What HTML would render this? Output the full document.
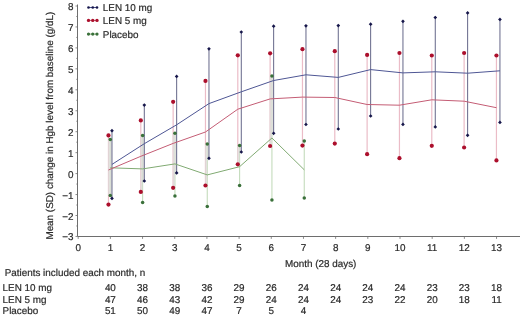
<!DOCTYPE html>
<html><head><meta charset="utf-8"><style>
html,body{margin:0;padding:0;background:#fff;}
body{width:520px;height:317px;overflow:hidden;}
svg{display:block;filter:blur(0.35px);}
text{font-family:"Liberation Sans",sans-serif;font-size:9.9px;fill:#2a2a2a;stroke:#2a2a2a;stroke-width:0.2px;text-rendering:geometricPrecision;}
</style></head><body>
<svg width="520" height="317" viewBox="0 0 520 317">
<line x1="108.48" y1="135.4" x2="108.48" y2="204.6" stroke="#ebbcc7" stroke-width="1.2"/>
<line x1="140.81" y1="120.4" x2="140.81" y2="191.9" stroke="#ebbcc7" stroke-width="1.2"/>
<line x1="173.14" y1="101.8" x2="173.14" y2="187.8" stroke="#ebbcc7" stroke-width="1.2"/>
<line x1="205.47" y1="80.9" x2="205.47" y2="185.5" stroke="#ebbcc7" stroke-width="1.2"/>
<line x1="237.80" y1="55.3" x2="237.80" y2="164.3" stroke="#ebbcc7" stroke-width="1.2"/>
<line x1="270.13" y1="53.3" x2="270.13" y2="146" stroke="#ebbcc7" stroke-width="1.2"/>
<line x1="302.46" y1="49.2" x2="302.46" y2="145.6" stroke="#ebbcc7" stroke-width="1.2"/>
<line x1="334.79" y1="51.2" x2="334.79" y2="143.6" stroke="#ebbcc7" stroke-width="1.2"/>
<line x1="367.12" y1="54.9" x2="367.12" y2="154.2" stroke="#ebbcc7" stroke-width="1.2"/>
<line x1="399.45" y1="53" x2="399.45" y2="158.2" stroke="#ebbcc7" stroke-width="1.2"/>
<line x1="431.78" y1="55.5" x2="431.78" y2="145.8" stroke="#ebbcc7" stroke-width="1.2"/>
<line x1="464.11" y1="53" x2="464.11" y2="147.5" stroke="#ebbcc7" stroke-width="1.2"/>
<line x1="496.44" y1="55.5" x2="496.44" y2="160.4" stroke="#ebbcc7" stroke-width="1.2"/>
<line x1="110.28" y1="139.5" x2="110.28" y2="195.4" stroke="#c4dcbc" stroke-width="1.1"/>
<line x1="142.61" y1="135.4" x2="142.61" y2="202.5" stroke="#c4dcbc" stroke-width="1.1"/>
<line x1="174.94" y1="133.3" x2="174.94" y2="196" stroke="#c4dcbc" stroke-width="1.1"/>
<line x1="207.27" y1="144" x2="207.27" y2="206.6" stroke="#c4dcbc" stroke-width="1.1"/>
<line x1="239.60" y1="145.6" x2="239.60" y2="185.5" stroke="#c4dcbc" stroke-width="1.1"/>
<line x1="271.93" y1="76" x2="271.93" y2="199.9" stroke="#c4dcbc" stroke-width="1.1"/>
<line x1="304.26" y1="141.1" x2="304.26" y2="198" stroke="#c4dcbc" stroke-width="1.1"/>
<rect x="107.98" y="139.5" width="4.00" height="55.90" fill="#dedcda" fill-opacity="0.75"/>
<rect x="140.31" y="135.4" width="4.00" height="45.60" fill="#dedcda" fill-opacity="0.75"/>
<rect x="140.31" y="181" width="2.30" height="10.90" fill="#dedcda" fill-opacity="0.75"/>
<rect x="172.64" y="133.3" width="4.00" height="39.60" fill="#dedcda" fill-opacity="0.75"/>
<rect x="172.64" y="172.9" width="2.30" height="14.90" fill="#dedcda" fill-opacity="0.75"/>
<rect x="204.97" y="144" width="4.00" height="14.30" fill="#dedcda" fill-opacity="0.75"/>
<rect x="204.97" y="158.3" width="2.30" height="27.20" fill="#dedcda" fill-opacity="0.75"/>
<rect x="237.30" y="145.6" width="4.00" height="6.40" fill="#dedcda" fill-opacity="0.75"/>
<rect x="237.30" y="152" width="2.30" height="12.30" fill="#dedcda" fill-opacity="0.75"/>
<rect x="269.63" y="76" width="4.00" height="57.30" fill="#dedcda" fill-opacity="0.75"/>
<rect x="269.63" y="133.3" width="2.30" height="12.70" fill="#dedcda" fill-opacity="0.75"/>
<rect x="301.96" y="141.1" width="2.30" height="4.50" fill="#dedcda" fill-opacity="0.75"/>
<line x1="111.98" y1="130.7" x2="111.98" y2="198.4" stroke="#6c6e8e" stroke-width="1.05"/>
<line x1="144.31" y1="105.1" x2="144.31" y2="181" stroke="#6c6e8e" stroke-width="1.05"/>
<line x1="176.64" y1="76.4" x2="176.64" y2="172.9" stroke="#6c6e8e" stroke-width="1.05"/>
<line x1="208.97" y1="48.8" x2="208.97" y2="158.3" stroke="#6c6e8e" stroke-width="1.05"/>
<line x1="241.30" y1="32" x2="241.30" y2="152" stroke="#6c6e8e" stroke-width="1.05"/>
<line x1="273.63" y1="26.2" x2="273.63" y2="133.3" stroke="#6c6e8e" stroke-width="1.05"/>
<line x1="305.96" y1="25.8" x2="305.96" y2="124.5" stroke="#6c6e8e" stroke-width="1.05"/>
<line x1="338.29" y1="25.6" x2="338.29" y2="129" stroke="#6c6e8e" stroke-width="1.05"/>
<line x1="370.62" y1="24.2" x2="370.62" y2="116" stroke="#6c6e8e" stroke-width="1.05"/>
<line x1="402.95" y1="21.3" x2="402.95" y2="124.4" stroke="#6c6e8e" stroke-width="1.05"/>
<line x1="435.28" y1="17.5" x2="435.28" y2="126.9" stroke="#6c6e8e" stroke-width="1.05"/>
<line x1="467.61" y1="12.9" x2="467.61" y2="135.3" stroke="#6c6e8e" stroke-width="1.05"/>
<line x1="499.94" y1="19.4" x2="499.94" y2="122.4" stroke="#6c6e8e" stroke-width="1.05"/>
<polyline points="110.28,167.8 142.61,168.9 174.94,163.9 207.27,174.9 239.60,166.7 271.93,138 304.26,169.8" fill="none" stroke="#80aa72" stroke-width="1"/>
<polyline points="108.48,170 140.81,156.3 173.14,143.4 205.47,132 237.80,109.2 270.13,98.9 302.46,97.1 334.79,97.5 367.12,104.5 399.45,105.2 431.78,99.8 464.11,101.2 496.44,107.7" fill="none" stroke="#c45c74" stroke-width="1"/>
<polyline points="111.98,164.4 144.31,143.7 176.64,124.8 208.97,103.6 241.30,91.8 273.63,80.5 305.96,74.8 338.29,77.4 370.62,69.6 402.95,72.9 435.28,71.8 467.61,73.2 499.94,70.8" fill="none" stroke="#4e5694" stroke-width="1"/>
<circle cx="110.28" cy="139.5" r="1.75" fill="#3a703a"/>
<circle cx="110.28" cy="195.4" r="1.75" fill="#3a703a"/>
<circle cx="142.61" cy="135.4" r="1.75" fill="#3a703a"/>
<circle cx="142.61" cy="202.5" r="1.75" fill="#3a703a"/>
<circle cx="174.94" cy="133.3" r="1.75" fill="#3a703a"/>
<circle cx="174.94" cy="196" r="1.75" fill="#3a703a"/>
<circle cx="207.27" cy="144" r="1.75" fill="#3a703a"/>
<circle cx="207.27" cy="206.6" r="1.75" fill="#3a703a"/>
<circle cx="239.60" cy="145.6" r="1.75" fill="#3a703a"/>
<circle cx="239.60" cy="185.5" r="1.75" fill="#3a703a"/>
<circle cx="271.93" cy="76" r="1.75" fill="#3a703a"/>
<circle cx="271.93" cy="199.9" r="1.75" fill="#3a703a"/>
<circle cx="304.26" cy="141.1" r="1.75" fill="#3a703a"/>
<circle cx="304.26" cy="198" r="1.75" fill="#3a703a"/>
<circle cx="108.48" cy="135.4" r="2.1" fill="#ac0f2c"/>
<circle cx="108.48" cy="204.6" r="2.1" fill="#ac0f2c"/>
<circle cx="140.81" cy="120.4" r="2.1" fill="#ac0f2c"/>
<circle cx="140.81" cy="191.9" r="2.1" fill="#ac0f2c"/>
<circle cx="173.14" cy="101.8" r="2.1" fill="#ac0f2c"/>
<circle cx="173.14" cy="187.8" r="2.1" fill="#ac0f2c"/>
<circle cx="205.47" cy="80.9" r="2.1" fill="#ac0f2c"/>
<circle cx="205.47" cy="185.5" r="2.1" fill="#ac0f2c"/>
<circle cx="237.80" cy="55.3" r="2.1" fill="#ac0f2c"/>
<circle cx="237.80" cy="164.3" r="2.1" fill="#ac0f2c"/>
<circle cx="270.13" cy="53.3" r="2.1" fill="#ac0f2c"/>
<circle cx="270.13" cy="146" r="2.1" fill="#ac0f2c"/>
<circle cx="302.46" cy="49.2" r="2.1" fill="#ac0f2c"/>
<circle cx="302.46" cy="145.6" r="2.1" fill="#ac0f2c"/>
<circle cx="334.79" cy="51.2" r="2.1" fill="#ac0f2c"/>
<circle cx="334.79" cy="143.6" r="2.1" fill="#ac0f2c"/>
<circle cx="367.12" cy="54.9" r="2.1" fill="#ac0f2c"/>
<circle cx="367.12" cy="154.2" r="2.1" fill="#ac0f2c"/>
<circle cx="399.45" cy="53" r="2.1" fill="#ac0f2c"/>
<circle cx="399.45" cy="158.2" r="2.1" fill="#ac0f2c"/>
<circle cx="431.78" cy="55.5" r="2.1" fill="#ac0f2c"/>
<circle cx="431.78" cy="145.8" r="2.1" fill="#ac0f2c"/>
<circle cx="464.11" cy="53" r="2.1" fill="#ac0f2c"/>
<circle cx="464.11" cy="147.5" r="2.1" fill="#ac0f2c"/>
<circle cx="496.44" cy="55.5" r="2.1" fill="#ac0f2c"/>
<circle cx="496.44" cy="160.4" r="2.1" fill="#ac0f2c"/>
<path d="M111.98 128.85L113.83 130.7L111.98 132.55L110.13 130.7Z" fill="#16164a"/>
<path d="M111.98 196.55L113.83 198.4L111.98 200.25L110.13 198.4Z" fill="#16164a"/>
<path d="M144.31 103.25L146.16 105.1L144.31 106.95L142.46 105.1Z" fill="#16164a"/>
<path d="M144.31 179.15L146.16 181L144.31 182.85L142.46 181Z" fill="#16164a"/>
<path d="M176.64 74.55L178.49 76.4L176.64 78.25L174.79 76.4Z" fill="#16164a"/>
<path d="M176.64 171.05L178.49 172.9L176.64 174.75L174.79 172.9Z" fill="#16164a"/>
<path d="M208.97 46.95L210.82 48.8L208.97 50.65L207.12 48.8Z" fill="#16164a"/>
<path d="M208.97 156.45L210.82 158.3L208.97 160.15L207.12 158.3Z" fill="#16164a"/>
<path d="M241.30 30.15L243.15 32L241.30 33.85L239.45 32Z" fill="#16164a"/>
<path d="M241.30 150.15L243.15 152L241.30 153.85L239.45 152Z" fill="#16164a"/>
<path d="M273.63 24.35L275.48 26.2L273.63 28.05L271.78 26.2Z" fill="#16164a"/>
<path d="M273.63 131.45L275.48 133.3L273.63 135.15L271.78 133.3Z" fill="#16164a"/>
<path d="M305.96 23.95L307.81 25.8L305.96 27.65L304.11 25.8Z" fill="#16164a"/>
<path d="M305.96 122.65L307.81 124.5L305.96 126.35L304.11 124.5Z" fill="#16164a"/>
<path d="M338.29 23.75L340.14 25.6L338.29 27.45L336.44 25.6Z" fill="#16164a"/>
<path d="M338.29 127.15L340.14 129L338.29 130.85L336.44 129Z" fill="#16164a"/>
<path d="M370.62 22.35L372.47 24.2L370.62 26.05L368.77 24.2Z" fill="#16164a"/>
<path d="M370.62 114.15L372.47 116L370.62 117.85L368.77 116Z" fill="#16164a"/>
<path d="M402.95 19.45L404.80 21.3L402.95 23.15L401.10 21.3Z" fill="#16164a"/>
<path d="M402.95 122.55L404.80 124.4L402.95 126.25L401.10 124.4Z" fill="#16164a"/>
<path d="M435.28 15.65L437.13 17.5L435.28 19.35L433.43 17.5Z" fill="#16164a"/>
<path d="M435.28 125.05L437.13 126.9L435.28 128.75L433.43 126.9Z" fill="#16164a"/>
<path d="M467.61 11.05L469.46 12.9L467.61 14.75L465.76 12.9Z" fill="#16164a"/>
<path d="M467.61 133.45L469.46 135.3L467.61 137.15L465.76 135.3Z" fill="#16164a"/>
<path d="M499.94 17.55L501.79 19.4L499.94 21.25L498.09 19.4Z" fill="#16164a"/>
<path d="M499.94 120.55L501.79 122.4L499.94 124.25L498.09 122.4Z" fill="#16164a"/>
<line x1="77.5" y1="4.5" x2="77.5" y2="236.5" stroke="#6e6e6e" stroke-width="1"/>
<line x1="77.5" y1="236.5" x2="520" y2="236.5" stroke="#6e6e6e" stroke-width="1"/>
<line x1="75.5" y1="236.45" x2="77.5" y2="236.45" stroke="#6e6e6e" stroke-width="0.8"/>
<line x1="76.3" y1="225.97" x2="77.5" y2="225.97" stroke="#6e6e6e" stroke-width="0.8"/>
<line x1="75.5" y1="215.50" x2="77.5" y2="215.50" stroke="#6e6e6e" stroke-width="0.8"/>
<line x1="76.3" y1="205.02" x2="77.5" y2="205.02" stroke="#6e6e6e" stroke-width="0.8"/>
<line x1="75.5" y1="194.55" x2="77.5" y2="194.55" stroke="#6e6e6e" stroke-width="0.8"/>
<line x1="76.3" y1="184.07" x2="77.5" y2="184.07" stroke="#6e6e6e" stroke-width="0.8"/>
<line x1="75.5" y1="173.60" x2="77.5" y2="173.60" stroke="#6e6e6e" stroke-width="0.8"/>
<line x1="76.3" y1="163.12" x2="77.5" y2="163.12" stroke="#6e6e6e" stroke-width="0.8"/>
<line x1="75.5" y1="152.65" x2="77.5" y2="152.65" stroke="#6e6e6e" stroke-width="0.8"/>
<line x1="76.3" y1="142.18" x2="77.5" y2="142.18" stroke="#6e6e6e" stroke-width="0.8"/>
<line x1="75.5" y1="131.70" x2="77.5" y2="131.70" stroke="#6e6e6e" stroke-width="0.8"/>
<line x1="76.3" y1="121.22" x2="77.5" y2="121.22" stroke="#6e6e6e" stroke-width="0.8"/>
<line x1="75.5" y1="110.75" x2="77.5" y2="110.75" stroke="#6e6e6e" stroke-width="0.8"/>
<line x1="76.3" y1="100.27" x2="77.5" y2="100.27" stroke="#6e6e6e" stroke-width="0.8"/>
<line x1="75.5" y1="89.80" x2="77.5" y2="89.80" stroke="#6e6e6e" stroke-width="0.8"/>
<line x1="76.3" y1="79.33" x2="77.5" y2="79.33" stroke="#6e6e6e" stroke-width="0.8"/>
<line x1="75.5" y1="68.85" x2="77.5" y2="68.85" stroke="#6e6e6e" stroke-width="0.8"/>
<line x1="76.3" y1="58.38" x2="77.5" y2="58.38" stroke="#6e6e6e" stroke-width="0.8"/>
<line x1="75.5" y1="47.90" x2="77.5" y2="47.90" stroke="#6e6e6e" stroke-width="0.8"/>
<line x1="76.3" y1="37.43" x2="77.5" y2="37.43" stroke="#6e6e6e" stroke-width="0.8"/>
<line x1="75.5" y1="26.95" x2="77.5" y2="26.95" stroke="#6e6e6e" stroke-width="0.8"/>
<line x1="76.3" y1="16.47" x2="77.5" y2="16.47" stroke="#6e6e6e" stroke-width="0.8"/>
<line x1="75.5" y1="6.00" x2="77.5" y2="6.00" stroke="#6e6e6e" stroke-width="0.8"/>
<line x1="78.20" y1="236.5" x2="78.20" y2="238.9" stroke="#6e6e6e" stroke-width="0.8"/>
<line x1="110.38" y1="236.5" x2="110.38" y2="238.9" stroke="#6e6e6e" stroke-width="0.8"/>
<line x1="142.56" y1="236.5" x2="142.56" y2="238.9" stroke="#6e6e6e" stroke-width="0.8"/>
<line x1="174.74" y1="236.5" x2="174.74" y2="238.9" stroke="#6e6e6e" stroke-width="0.8"/>
<line x1="206.92" y1="236.5" x2="206.92" y2="238.9" stroke="#6e6e6e" stroke-width="0.8"/>
<line x1="239.10" y1="236.5" x2="239.10" y2="238.9" stroke="#6e6e6e" stroke-width="0.8"/>
<line x1="271.28" y1="236.5" x2="271.28" y2="238.9" stroke="#6e6e6e" stroke-width="0.8"/>
<line x1="303.46" y1="236.5" x2="303.46" y2="238.9" stroke="#6e6e6e" stroke-width="0.8"/>
<line x1="335.64" y1="236.5" x2="335.64" y2="238.9" stroke="#6e6e6e" stroke-width="0.8"/>
<line x1="367.82" y1="236.5" x2="367.82" y2="238.9" stroke="#6e6e6e" stroke-width="0.8"/>
<line x1="400.00" y1="236.5" x2="400.00" y2="238.9" stroke="#6e6e6e" stroke-width="0.8"/>
<line x1="432.18" y1="236.5" x2="432.18" y2="238.9" stroke="#6e6e6e" stroke-width="0.8"/>
<line x1="464.36" y1="236.5" x2="464.36" y2="238.9" stroke="#6e6e6e" stroke-width="0.8"/>
<line x1="496.54" y1="236.5" x2="496.54" y2="238.9" stroke="#6e6e6e" stroke-width="0.8"/>
<text x="73.60" y="240.45" text-anchor="end">−3</text>
<text x="73.60" y="219.50" text-anchor="end">−2</text>
<text x="73.60" y="198.55" text-anchor="end">−1</text>
<text x="73.60" y="177.60" text-anchor="end">0</text>
<text x="73.60" y="156.65" text-anchor="end">1</text>
<text x="73.60" y="135.70" text-anchor="end">2</text>
<text x="73.60" y="114.75" text-anchor="end">3</text>
<text x="73.60" y="93.80" text-anchor="end">4</text>
<text x="73.60" y="72.85" text-anchor="end">5</text>
<text x="73.60" y="51.90" text-anchor="end">6</text>
<text x="73.60" y="30.95" text-anchor="end">7</text>
<text x="73.60" y="10.00" text-anchor="end">8</text>
<text x="78.20" y="250.70" text-anchor="middle">0</text>
<text x="110.38" y="250.70" text-anchor="middle">1</text>
<text x="142.56" y="250.70" text-anchor="middle">2</text>
<text x="174.74" y="250.70" text-anchor="middle">3</text>
<text x="206.92" y="250.70" text-anchor="middle">4</text>
<text x="239.10" y="250.70" text-anchor="middle">5</text>
<text x="271.28" y="250.70" text-anchor="middle">6</text>
<text x="303.46" y="250.70" text-anchor="middle">7</text>
<text x="335.64" y="250.70" text-anchor="middle">8</text>
<text x="367.82" y="250.70" text-anchor="middle">9</text>
<text x="400.00" y="250.70" text-anchor="middle">10</text>
<text x="432.18" y="250.70" text-anchor="middle">11</text>
<text x="464.36" y="250.70" text-anchor="middle">12</text>
<text x="496.54" y="250.70" text-anchor="middle">13</text>
<text x="285.00" y="266.70">Month (28 days)</text>
<text transform="translate(52.8 239.6) rotate(-90)" textLength="227.8" lengthAdjust="spacingAndGlyphs">Mean (SD) change in Hgb level from baseline (g/dL)</text>
<line x1="88.5" y1="7.5" x2="97" y2="7.5" stroke="#4e5694" stroke-width="1"/>
<circle cx="88.5" cy="7.5" r="1.3" fill="#16164a"/>
<circle cx="92.75" cy="7.5" r="1.3" fill="#16164a"/>
<circle cx="97" cy="7.5" r="1.3" fill="#16164a"/>
<text x="102.80" y="11.10">LEN 10 mg</text>
<line x1="88.5" y1="20.4" x2="97" y2="20.4" stroke="#c45c74" stroke-width="1"/>
<circle cx="88.5" cy="20.4" r="1.65" fill="#ac0f2c"/>
<circle cx="92.75" cy="20.4" r="1.65" fill="#ac0f2c"/>
<circle cx="97" cy="20.4" r="1.65" fill="#ac0f2c"/>
<text x="102.80" y="24.00">LEN 5 mg</text>
<line x1="88.5" y1="34.1" x2="97" y2="34.1" stroke="#80aa72" stroke-width="1"/>
<circle cx="88.5" cy="34.1" r="1.6" fill="#3a703a"/>
<circle cx="92.75" cy="34.1" r="1.6" fill="#3a703a"/>
<circle cx="97" cy="34.1" r="1.6" fill="#3a703a"/>
<text x="102.80" y="37.70">Placebo</text>
<text x="4.70" y="275.90">Patients included each month, n</text>
<text x="2.60" y="290.60">LEN 10 mg</text>
<text x="110.38" y="290.60" text-anchor="middle">40</text>
<text x="142.56" y="290.60" text-anchor="middle">38</text>
<text x="174.74" y="290.60" text-anchor="middle">38</text>
<text x="206.92" y="290.60" text-anchor="middle">36</text>
<text x="239.10" y="290.60" text-anchor="middle">29</text>
<text x="271.28" y="290.60" text-anchor="middle">26</text>
<text x="303.46" y="290.60" text-anchor="middle">24</text>
<text x="335.64" y="290.60" text-anchor="middle">24</text>
<text x="367.82" y="290.60" text-anchor="middle">24</text>
<text x="400.00" y="290.60" text-anchor="middle">24</text>
<text x="432.18" y="290.60" text-anchor="middle">23</text>
<text x="464.36" y="290.60" text-anchor="middle">23</text>
<text x="496.54" y="290.60" text-anchor="middle">18</text>
<text x="2.60" y="302.80">LEN 5 mg</text>
<text x="110.38" y="302.80" text-anchor="middle">47</text>
<text x="142.56" y="302.80" text-anchor="middle">46</text>
<text x="174.74" y="302.80" text-anchor="middle">43</text>
<text x="206.92" y="302.80" text-anchor="middle">42</text>
<text x="239.10" y="302.80" text-anchor="middle">29</text>
<text x="271.28" y="302.80" text-anchor="middle">24</text>
<text x="303.46" y="302.80" text-anchor="middle">24</text>
<text x="335.64" y="302.80" text-anchor="middle">24</text>
<text x="367.82" y="302.80" text-anchor="middle">23</text>
<text x="400.00" y="302.80" text-anchor="middle">22</text>
<text x="432.18" y="302.80" text-anchor="middle">20</text>
<text x="464.36" y="302.80" text-anchor="middle">18</text>
<text x="496.54" y="302.80" text-anchor="middle">11</text>
<text x="2.60" y="314.00">Placebo</text>
<text x="110.38" y="314.00" text-anchor="middle">51</text>
<text x="142.56" y="314.00" text-anchor="middle">50</text>
<text x="174.74" y="314.00" text-anchor="middle">49</text>
<text x="206.92" y="314.00" text-anchor="middle">47</text>
<text x="239.10" y="314.00" text-anchor="middle">7</text>
<text x="271.28" y="314.00" text-anchor="middle">5</text>
<text x="303.46" y="314.00" text-anchor="middle">4</text>
</svg>
</body></html>
